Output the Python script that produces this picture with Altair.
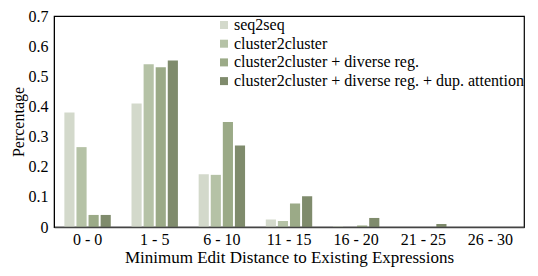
import altair as alt
import pandas as pd

categories = ["0 - 0", "1 - 5", "6 - 10", "11 - 15", "16 - 20", "21 - 25", "26 - 30"]
series = [
    "seq2seq",
    "cluster2cluster",
    "cluster2cluster + diverse reg.",
    "cluster2cluster + diverse reg. + dup. attention",
]
seq2seq = [0.38, 0.41, 0.175, 0.025, 0.003, 0.0, 0.0]
c2c = [0.265, 0.54, 0.173, 0.02, 0.0, 0.0, 0.0]
c2c_div = [0.04, 0.53, 0.348, 0.078, 0.005, 0.0, 0.0]
c2c_div_dup = [0.04, 0.552, 0.27, 0.102, 0.03, 0.01, 0.0]
colors = ["#d3d9cb", "#b5c2a6", "#9baa87", "#7f8b6c"]

rows = []
for s, vals in zip(series, [seq2seq, c2c, c2c_div, c2c_div_dup]):
    for c, v in zip(categories, vals):
        rows.append({"cat": c, "series": s, "value": v})
df = pd.DataFrame(rows)

font = "'Liberation Serif', 'Times New Roman', serif"

chart = alt.Chart(df).transform_filter(
    "datum.value > 0"
).mark_bar().encode(
    x=alt.X("cat:N", sort=categories,
            scale=alt.Scale(domain=categories, paddingInner=0.28, paddingOuter=0.14),
            axis=alt.Axis(title="Minimum Edit Distance to Existing Expressions",
                          labelAngle=0, ticks=False, labelPadding=4, zindex=1,
                          titlePadding=2, titleFontSize=17, labelFontSize=16,
                          domainColor="#444444", domainWidth=1.5)),
    xOffset=alt.XOffset("series:N", sort=series,
                        scale=alt.Scale(domain=series, paddingInner=0.16, paddingOuter=0.08)),
    y=alt.Y("value:Q",
            scale=alt.Scale(domain=[0, 0.7], nice=False),
            axis=alt.Axis(title="Percentage", values=[0, 0.1, 0.2, 0.3, 0.4, 0.5, 0.6, 0.7],
                          labelExpr="datum.value == 0 ? '0' : format(datum.value, '.1f')",
                          ticks=False, grid=False, labelPadding=6, titlePadding=2,
                          labelFontSize=16, titleFontSize=16,
                          zindex=1, domainColor="black")),
    color=alt.Color("series:N", sort=series,
                    scale=alt.Scale(domain=series, range=colors),
                    legend=alt.Legend(title=None, orient="none", legendX=162, legendY=1,
                                      symbolType="square", symbolSize=64,
                                      symbolStrokeWidth=0, rowPadding=2.7,
                                      labelFontSize=16, labelFont=font,
                                      labelLimit=400, labelOffset=2)),
).properties(
    width=470, height=211,
    autosize=alt.AutoSizeParams(type="none"),
    padding={"left": 46, "top": 8, "right": 6, "bottom": 50},
).configure(
    font=font
).configure_view(
    stroke="black", strokeWidth=1.2
).configure_axis(
    labelFont=font, titleFont=font,
    labelColor="black", titleColor="black", titleFontWeight="normal",
).configure_legend(
    labelFont=font, labelColor="black"
)

chart.save("out.html", embed_options={"renderer": "svg", "actions": False})
